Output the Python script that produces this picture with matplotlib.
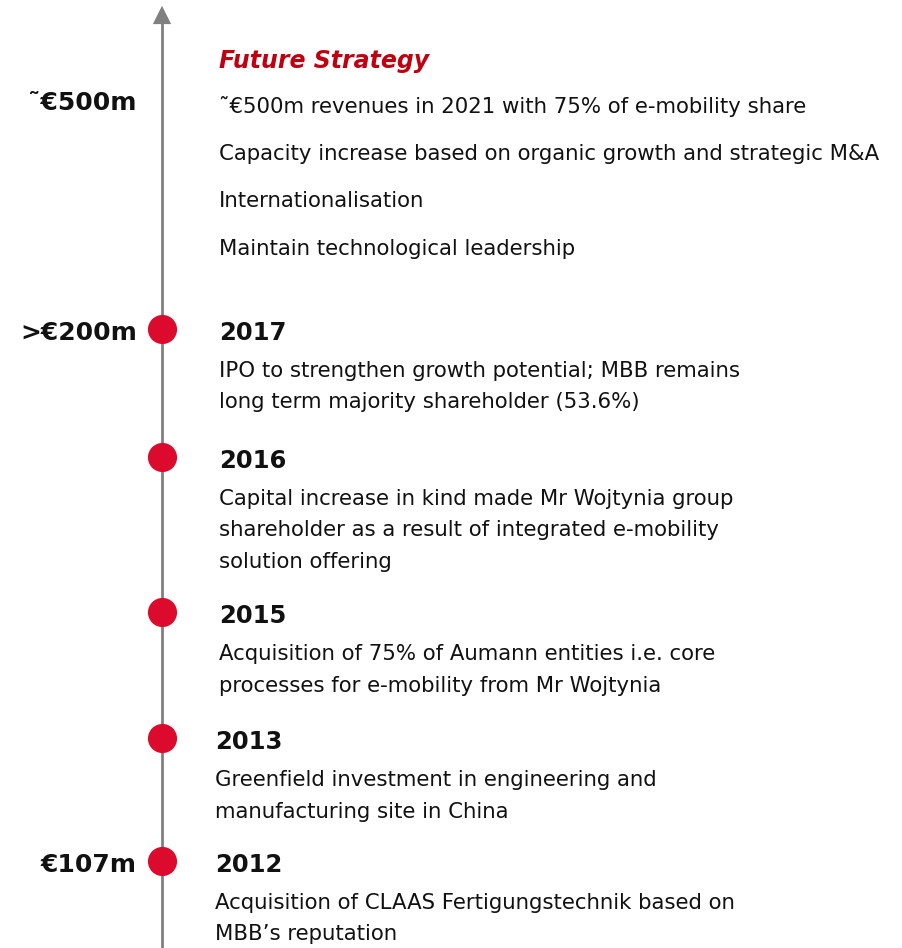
import matplotlib
matplotlib.use("Agg")
import matplotlib.pyplot as plt
from matplotlib.patches import FancyArrowPatch

# ---- data ----
strategy_title = "Future Strategy"
strategy_label = "˜€500m"
strategy_items = [
    "˜€500m revenues in 2021 with 75% of e-mobility share",
    "Capacity increase based on organic growth and strategic M&A",
    "Internationalisation",
    "Maintain technological leadership",
]
years = ["2017", "2016", "2015", "2013", "2012"]
revenue_labels = [">€200m", "", "", "", "€107m"]
descriptions = [
    ["IPO to strengthen growth potential; MBB remains",
     "long term majority shareholder (53.6%)"],
    ["Capital increase in kind made Mr Wojtynia group",
     "shareholder as a result of integrated e-mobility",
     "solution offering"],
    ["Acquisition of 75% of Aumann entities i.e. core",
     "processes for e-mobility from Mr Wojtynia"],
    ["Greenfield investment in engineering and",
     "manufacturing site in China"],
    ["Acquisition of CLAAS Fertigungstechnik based on",
     "MBB’s reputation"],
]

# ---- layout (pixel coordinates) ----
W, H = 902, 948
line_x = 162
event_y = [329, 457, 612, 738, 861]
event_text_x = [219, 219, 219, 215, 215]
line_gap = 31.5
strategy_y = [106, 154, 201, 249]

FONT = "DejaVu Sans"
RED_DOT = "#DC0A2D"
RED_TITLE = "#C00010"
GREY = "#808080"
TXT = "#111111"

fig = plt.figure(figsize=(W / 100, H / 100), dpi=100)
ax = fig.add_axes([0, 0, 1, 1])
ax.set_xlim(0, W)
ax.set_ylim(H, 0)
ax.axis("off")

# vertical timeline with arrow
ax.plot([line_x, line_x], [H, 14], color=GREY, lw=2, solid_capstyle="butt", zorder=1)
ax.add_patch(FancyArrowPatch((line_x, 18), (line_x, 3),
                             arrowstyle="-|>,head_length=0.6,head_width=0.3",
                             mutation_scale=22, color=GREY, lw=0, zorder=1))

# future strategy
ax.text(219, 61, strategy_title, color=RED_TITLE, fontsize=17, fontweight="bold",
        fontstyle="italic", family=FONT, va="center", ha="left")
ax.text(137, 103, strategy_label, color=TXT, fontsize=18, fontweight="bold",
        family=FONT, va="center", ha="right")
for t, y in zip(strategy_items, strategy_y):
    ax.text(219, y, t, color=TXT, fontsize=15.35, family=FONT, va="center", ha="left")

# events
for yr, lab, desc, y, tx in zip(years, revenue_labels, descriptions, event_y, event_text_x):
    ax.scatter([line_x], [y], s=440, color=RED_DOT, zorder=3, linewidths=0)
    ax.text(tx, y + 4, yr, color=TXT, fontsize=17.5, fontweight="bold", family=FONT,
            va="center", ha="left")
    if lab:
        ax.text(137, y + 4, lab, color=TXT, fontsize=18, fontweight="bold", family=FONT,
                va="center", ha="right")
    for i, line in enumerate(desc):
        ax.text(tx, y + 42 + i * line_gap, line, color=TXT, fontsize=15.35, family=FONT,
                va="center", ha="left")

fig.savefig("out.png", dpi=100, facecolor="white")
